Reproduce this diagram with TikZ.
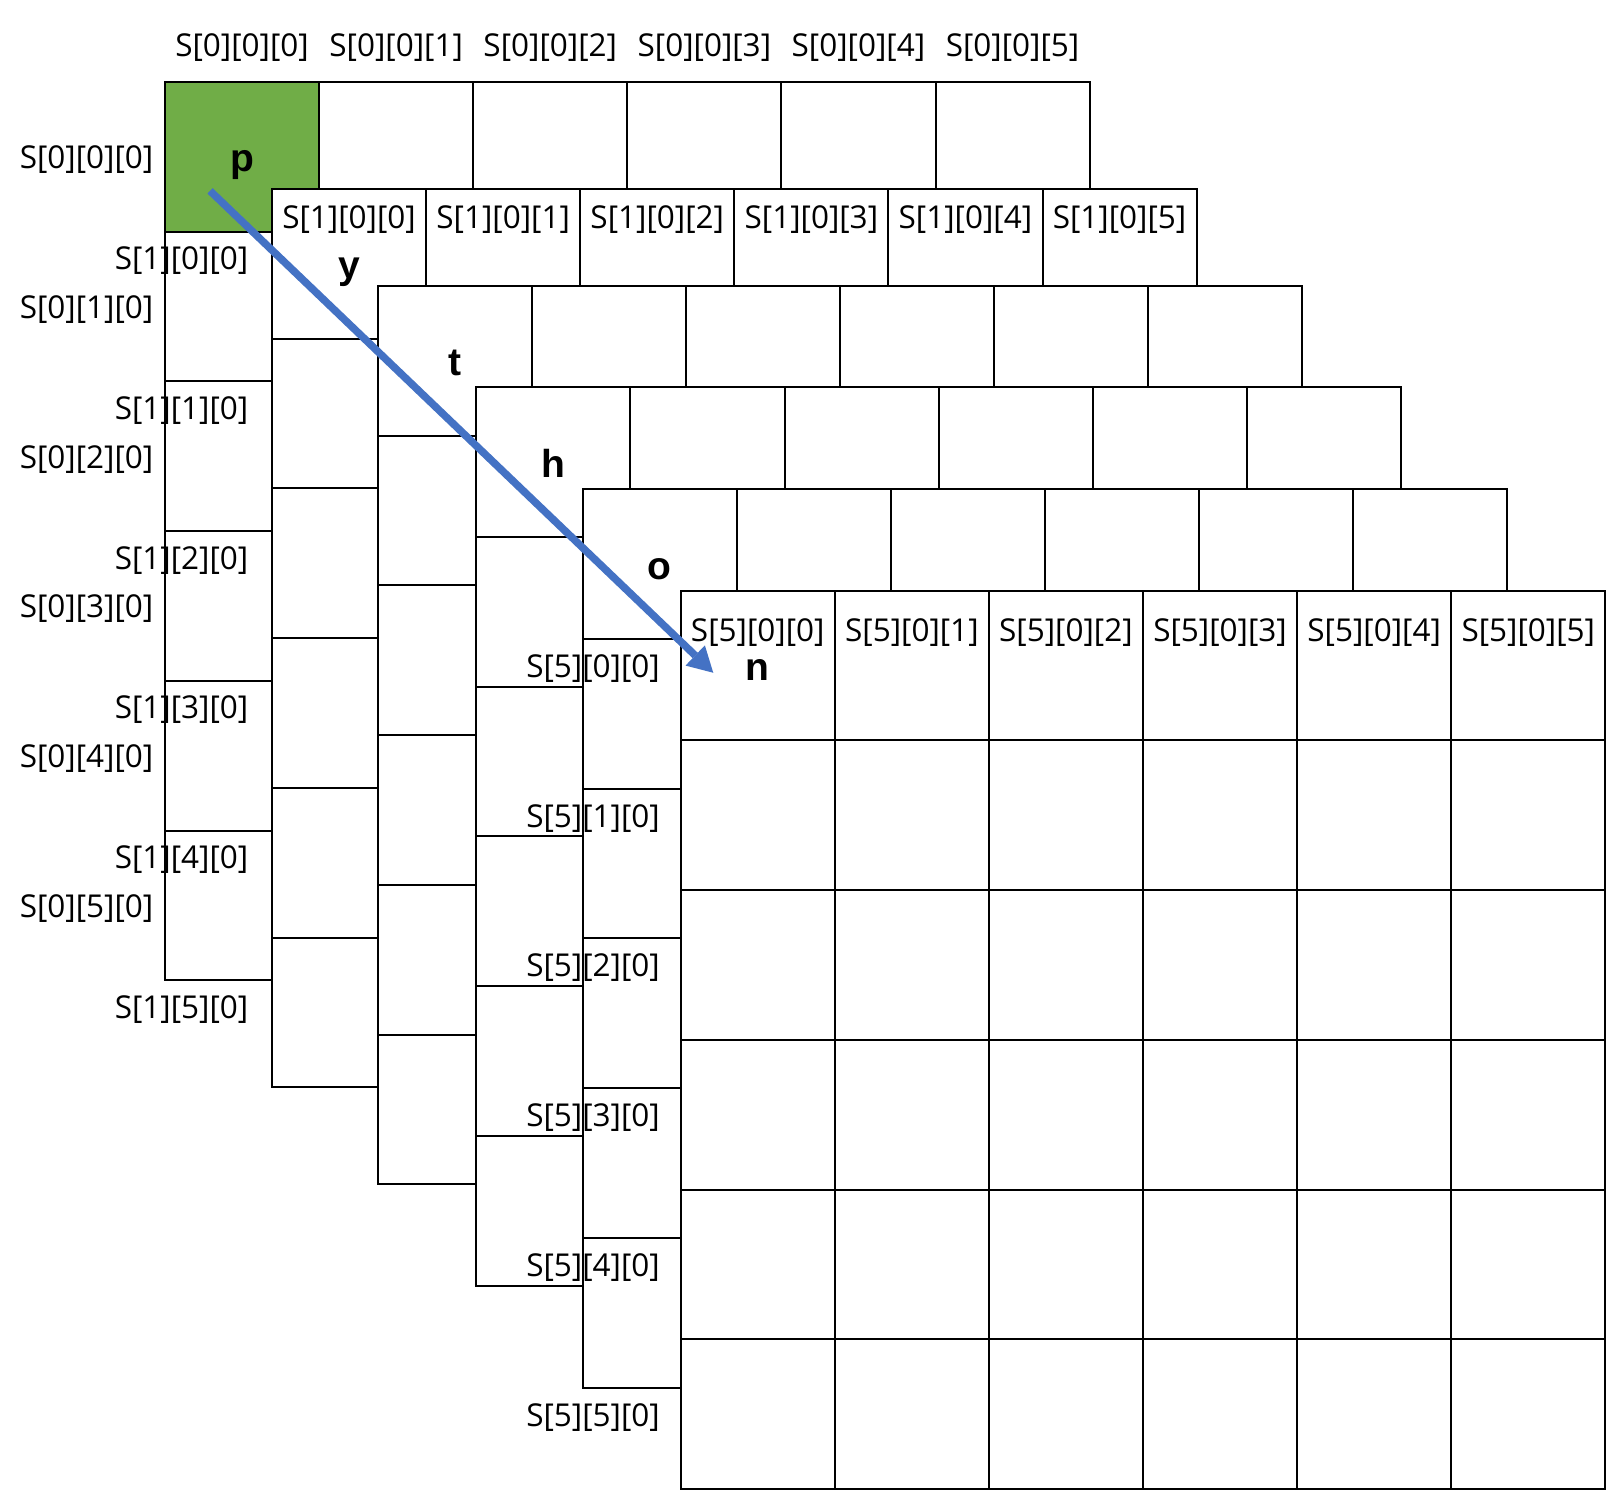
\documentclass[tikz,border=0pt]{standalone}
\usepackage{fontspec}
\setmainfont{Open Sans}
\newfontfamily\letterfont{Liberation Sans}
\usetikzlibrary{positioning, arrows.meta}
\definecolor{pgreen}{HTML}{70AD47}
\definecolor{pblue}{HTML}{4472C4}

\begin{document}
\begin{tikzpicture}[x=1pt, y=-1pt,
    slot/.style={draw, line width=2pt, fill=white, minimum width=154.1pt, minimum height=149.7pt, inner sep=0pt, outer sep=0pt},
    idx/.style={font=\fontsize{31.5}{38}\selectfont, inner sep=0pt},
    chr/.style={font=\letterfont\bfseries\fontsize{39}{44}\selectfont, inner sep=0pt, anchor=base},
    flow/.style={draw=pblue, line width=7.5pt, -{Triangle[length=25pt, width=28pt, line width=0pt]}}]
    \useasboundingbox (0,0) rectangle (1616,1492);

    \foreach \layer/\ox/\oy in {0/165/82, 1/272/189, 2/377.7/286, 3/476.3/387.3, 4/582.7/489.3, 5/680.7/590.7} {
        \foreach \row in {0,...,5}
            \foreach \col in {0,...,5}
                \node[slot] (L\layer-\row-\col) at ({\ox+(\col+0.5)*154.1}, {\oy+(\row+0.5)*149.7}) {};
        \ifnum\layer=0 \node[slot, fill=pgreen] (first) at (L0-0-0) {}; \fi
    }

    \foreach \col in {0,...,5} {
        \node[idx, above=25.3pt of L0-0-\col, anchor=base] (top0-\col) {S[0][0][\col]};
        \node[idx, anchor=base] (top1-\col) at ([yshift=-39pt]L1-0-\col.north) {S[1][0][\col]};
        \node[idx, anchor=base] (top5-\col) at ([yshift=-51pt]L5-0-\col.north) {S[5][0][\col]};
    }
    \foreach \row in {0,...,5} {
        \node[idx, left=11.5pt of L0-\row-0, anchor=base east, yshift=-12pt] (side0-\row) {S[0][\row][0]};
        \node[idx, left=23.5pt of L1-\row-0, anchor=base east, yshift=-6pt] (side1-\row) {S[1][\row][0]};
        \node[idx, left=20.7pt of L5-\row-0, anchor=base east, yshift=-12pt] (side5-\row) {S[5][\row][0]};
    }

    \node[chr] (p) at ([yshift=-15pt]L0-0-0.center) {p};
    \node[chr] (y) at ([yshift=-15pt]L1-0-0.center) {y};
    \node[chr] (t) at ([yshift=-15pt]L2-0-0.center) {t};
    \node[chr] (h) at ([yshift=-15pt]L3-0-0.center) {h};
    \node[chr] (o) at ([yshift=-15pt]L4-0-0.center) {o};
    \node[chr] (n) at ([yshift=-15pt]L5-0-0.center) {n};

    \coordinate (arrow from) at ([shift={(-32,34)}]L0-0-0.center);
    \coordinate (arrow to) at ([shift={(-44.5,7.2)}]L5-0-0.center);
    \draw[flow] (arrow from) -- (arrow to);
\end{tikzpicture}
\end{document}
